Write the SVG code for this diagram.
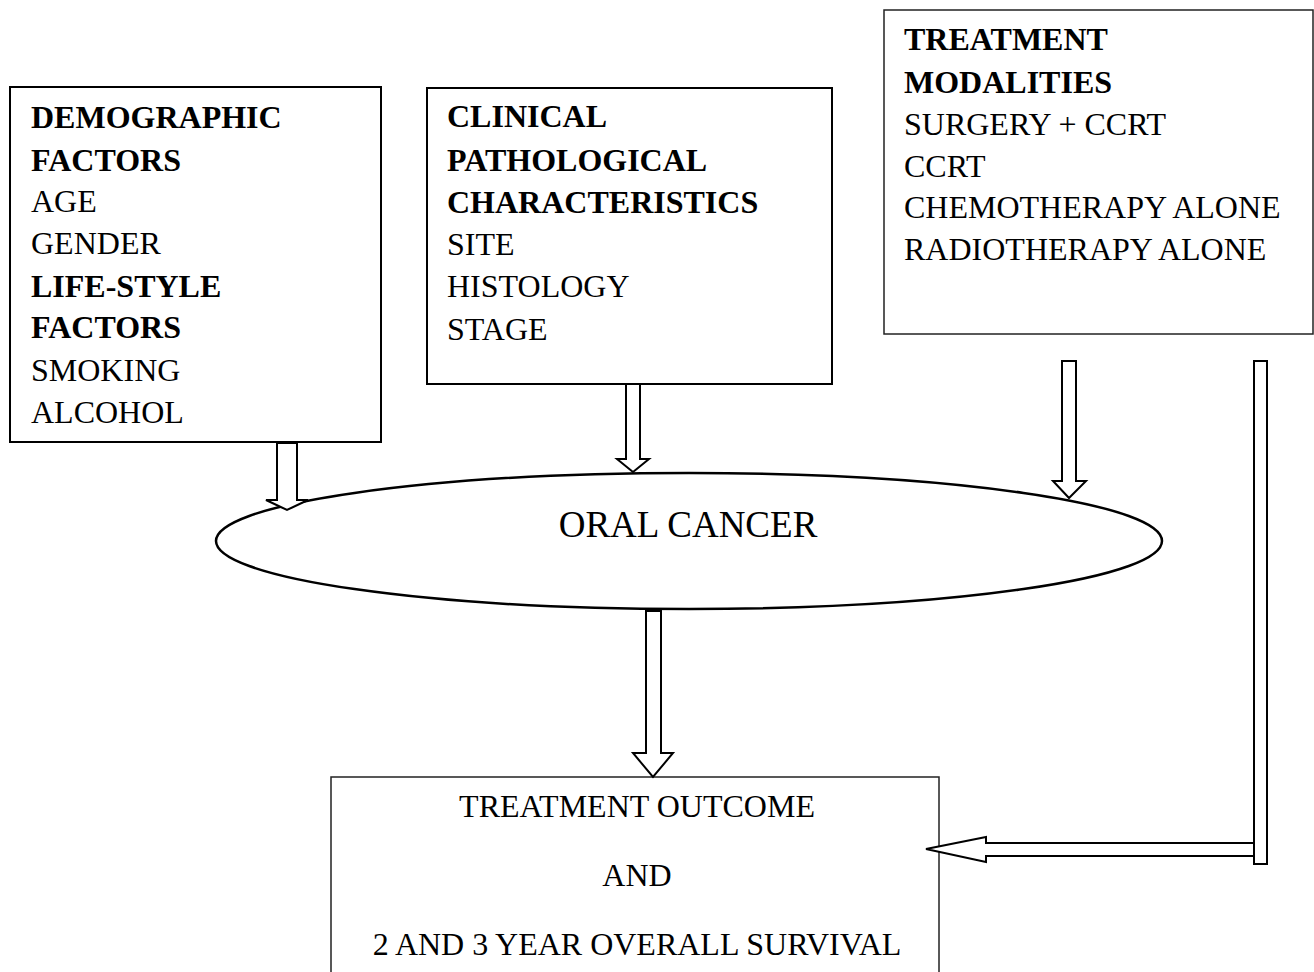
<svg xmlns="http://www.w3.org/2000/svg" width="1314" height="972" viewBox="0 0 1314 972">
<style>
  .box { fill: #fff; stroke: #000; stroke-width: 2; }
  .thin { fill: #fff; stroke: #222; stroke-width: 1.5; }
  .arrow { fill: #fff; stroke: #000; stroke-width: 2; stroke-linejoin: miter; }
  text { font-family: "Liberation Serif", "Times New Roman", serif; font-size: 32px; fill: #000; }
  .b { font-weight: bold; }
  .c { text-anchor: middle; }
</style>
<rect width="1314" height="972" fill="#fff"/>
<g id="demographic">
  <rect class="box" x="10" y="87" width="371" height="355"/>
  <text x="31" y="128" class="b">DEMOGRAPHIC</text>
  <text x="31" y="171" class="b">FACTORS</text>
  <text x="31" y="212">AGE</text>
  <text x="31" y="254">GENDER</text>
  <text x="31" y="297" class="b">LIFE-STYLE</text>
  <text x="31" y="338" class="b">FACTORS</text>
  <text x="31" y="381">SMOKING</text>
  <text x="31" y="423">ALCOHOL</text>
</g>
<g id="clinical">
  <rect class="box" x="427" y="88" width="405" height="296"/>
  <text x="447" y="127" class="b">CLINICAL</text>
  <text x="447" y="171" class="b">PATHOLOGICAL</text>
  <text x="447" y="213" class="b">CHARACTERISTICS</text>
  <text x="447" y="255">SITE</text>
  <text x="447" y="297">HISTOLOGY</text>
  <text x="447" y="340">STAGE</text>
</g>
<g id="treatment">
  <rect class="thin" x="884" y="10" width="429" height="324"/>
  <text x="904" y="50" class="b">TREATMENT</text>
  <text x="904" y="93" class="b">MODALITIES</text>
  <text x="904" y="135">SURGERY + CCRT</text>
  <text x="904" y="177">CCRT</text>
  <text x="904" y="218">CHEMOTHERAPY ALONE</text>
  <text x="904" y="260">RADIOTHERAPY ALONE</text>
</g>
<g id="oral-cancer">
  <ellipse cx="689" cy="541" rx="473" ry="68" fill="#fff" stroke="#000" stroke-width="2.5"/>
  <text x="688" y="537" class="c" style="font-size:37px">ORAL CANCER</text>
</g>
<g id="outcome">
  <rect class="thin" x="331" y="777" width="608" height="220"/>
  <text x="637" y="817" class="c">TREATMENT OUTCOME</text>
  <text x="637" y="886" class="c">AND</text>
  <text x="637" y="955" class="c">2 AND 3 YEAR OVERALL SURVIVAL</text>
</g>
<g id="connectors">
  <path class="arrow" d="M277,443 L297,443 L297,500 L308,500 L287,510 L266,500 L277,500 Z"/>
  <path class="arrow" d="M626,384 L640,384 L640,459 L649,459 L633,472 L617,459 L626,459 Z"/>
  <path class="arrow" d="M1062,361 L1076,361 L1076,481 L1086,481 L1069,498 L1053,481 L1062,481 Z"/>
  <path class="arrow" d="M646,611 L661,611 L661,753 L673,753 L653,777 L633,753 L646,753 Z"/>
  <rect class="arrow" x="1254" y="361" width="13" height="503"/>
  <path class="arrow" d="M1254,843 L986,843 L986,837 L926,849 L986,862 L986,856 L1254,856 Z"/>
</g>
</svg>
